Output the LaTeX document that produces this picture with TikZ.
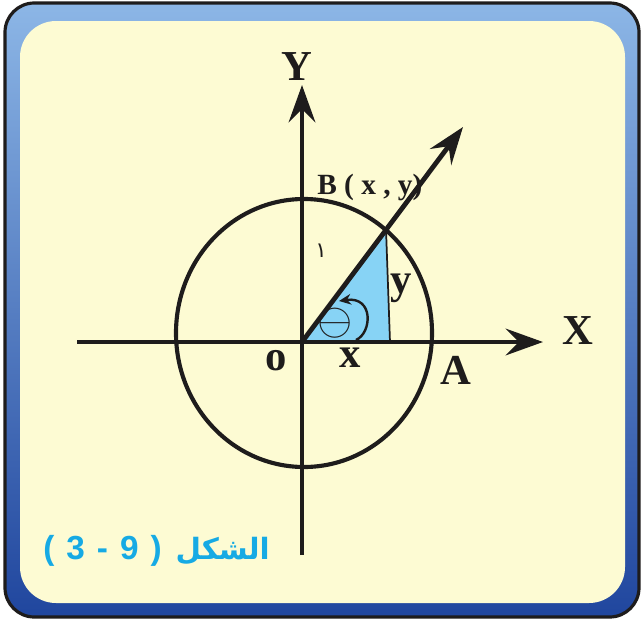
\documentclass[tikz,border=0pt]{standalone}
\usepackage{fontspec}
\setmainfont{Liberation Serif}
\newfontfamily\arabicfont[Script=Arabic]{DejaVu Sans}
\newfontfamily\capdigits{Liberation Sans}
\TeXXeTstate=1
\usetikzlibrary{arrows.meta}
\definecolor{cream}{RGB}{253,251,211}
\definecolor{skyfill}{RGB}{135,211,245}
\definecolor{captioncyan}{RGB}{22,170,228}
\definecolor{frametop}{RGB}{140,182,230}
\definecolor{framebot}{RGB}{32,70,158}
\definecolor{inkdark}{RGB}{30,28,28}
\begin{document}
\begin{tikzpicture}[x=0.75pt,y=-0.75pt,
  heavy/.style={line width=3.6pt, draw=inkdark},
  axisarrow/.style={heavy, -{Stealth[length=28pt,width=20pt,inset=10pt]}},
  biglab/.style={font=\bfseries\fontsize{32}{34}\selectfont, text=inkdark, inner sep=0pt},
  midlab/.style={font=\bfseries\fontsize{32}{34}\selectfont, text=inkdark, inner sep=0pt},
  blab/.style={font=\bfseries\fontsize{22}{24}\selectfont, text=inkdark, inner sep=0pt},
  caption/.style={text=captioncyan, inner sep=0pt}]
\useasboundingbox (0,0) rectangle (642,621);
% frame
\draw[line width=2.4pt, draw=inkdark, rounded corners=22pt, top color=frametop, bottom color=framebot] (5,3) rectangle (639,617);
\fill[cream, rounded corners=27pt] (20,21) rectangle (625,603);
% points
\coordinate (O) at (302,342);
\coordinate (B) at (386,229);
\coordinate (F) at (390,342);
\coordinate (XL) at (77,342);
\coordinate (XR) at (543,342);
\coordinate (YB) at (302,555);
\coordinate (YT) at (302,85);
\coordinate (RT) at (463,127);
\coordinate (C) at (304,333);
\coordinate (LoopS) at (356,340);
\coordinate (LoopE) at (339,301);
% triangle
\fill[skyfill] (O) -- (B) -- (F) -- cycle;
\draw[line width=1.3pt, draw=inkdark] (B) -- (F);
% circle
\draw[line width=3.1pt, draw=inkdark] (C) ellipse [x radius=128, y radius=134];
% axes
\draw[axisarrow] (XL) -- (XR);
\draw[axisarrow] (YB) -- (YT);
\draw[axisarrow] (O) -- (RT);
% angle loop
\draw[line width=1.8pt, draw=inkdark, -{Stealth[length=9pt,width=8pt]}] (LoopS) .. controls (372,333) and (374,296) .. (LoopE);
\node[scale=3.4, text=inkdark, inner sep=0pt] (th) at (335,323) {$\ominus$};
% labels
\node[biglab] (Xlab) at (578,331) {X};
\node[biglab] (Ylab) at (297,67) {Y};
\node[blab, anchor=west] (Blab) at (317,187) {B ( x , y)};
\node[midlab] (olab) at (276,361) {o};
\node[midlab] (xlab) at (350,358) {x};
\node[midlab] (ylab) at (401,288) {y};
\node[midlab] (Alab) at (456,370) {A};
\node[text=inkdark, font=\arabicfont\fontsize{16}{18}\selectfont] (one) at (321,251) {\beginR ١\endR};
\node[caption, anchor=east, font=\arabicfont\bfseries\fontsize{22}{24}\selectfont] (capword) at (270,551) {\beginR الشكل\endR};
\node[caption, anchor=east, font=\capdigits\bfseries\fontsize{25}{27}\selectfont] (capnum) at ([xshift=-10pt]capword.west) {(\hspace{9pt}3\hspace{9pt}-\hspace{9pt}9\hspace{9pt})};
\end{tikzpicture}
\end{document}
